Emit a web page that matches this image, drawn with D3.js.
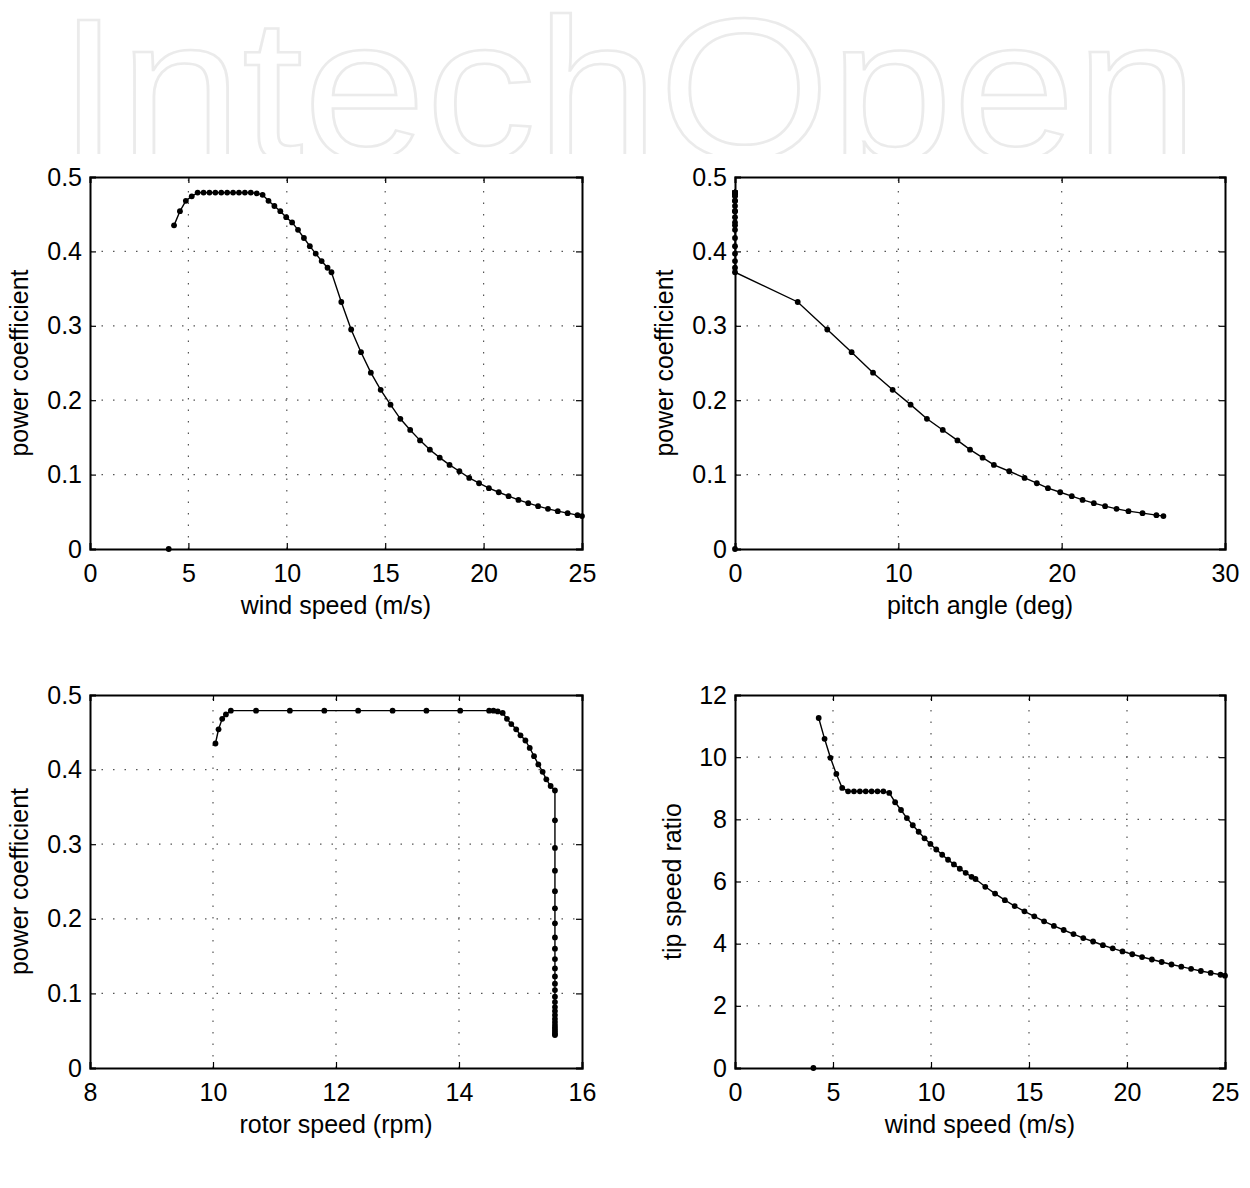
<!DOCTYPE html>
<html>
<head>
<meta charset="utf-8">
<script src="https://cdn.jsdelivr.net/npm/d3@7"></script>
<style>
  body { margin: 0; background: #fff; }
  svg { display: block; font-family: "Liberation Sans", Arial, Helvetica, sans-serif; }
  .tick text { font-size: 25px; fill: #000; }
</style>
</head>
<body>
<svg id="fig" width="1250" height="1188"></svg>
<script>
// operating points of the turbine, one entry per simulated wind speed
var windSpeed = [4.27, 4.57, 4.87, 5.17, 5.47, 5.77, 6.07, 6.37, 6.67, 6.97, 7.27, 7.57, 7.87, 8.17,
  8.47, 8.77, 9.07, 9.37, 9.67, 9.97, 10.27, 10.57, 10.87, 11.17, 11.47, 11.77, 12.07, 12.27,
  12.77, 13.27, 13.77, 14.27, 14.77, 15.27, 15.77, 16.27, 16.77, 17.27, 17.77, 18.27, 18.77,
  19.27, 19.77, 20.27, 20.77, 21.27, 21.77, 22.27, 22.77, 23.27, 23.77, 24.27, 24.77, 25.0];

var powerCoeff = [0.435, 0.454, 0.468, 0.474, 0.479, 0.479, 0.479, 0.479, 0.479, 0.479, 0.479, 0.479, 0.479, 0.479,
  0.478, 0.476, 0.468, 0.461, 0.454, 0.446, 0.439, 0.429, 0.418, 0.407, 0.397, 0.387, 0.378, 0.372,
  0.332, 0.295, 0.2645, 0.237, 0.214, 0.194, 0.175, 0.160, 0.146, 0.1335, 0.1228, 0.113, 0.1045,
  0.0955, 0.0884, 0.0817, 0.0763, 0.071, 0.066, 0.0616, 0.0576, 0.054, 0.0509, 0.0482, 0.0455, 0.0442];

var pitchAngle = [0, 0, 0, 0, 0, 0, 0, 0, 0, 0, 0, 0, 0, 0,
  0, 0, 0, 0, 0, 0, 0, 0, 0, 0, 0, 0, 0, 0,
  3.84, 5.65, 7.14, 8.45, 9.65, 10.75, 11.75, 12.72, 13.62, 14.39, 15.16, 15.85, 16.79,
  17.73, 18.48, 19.16, 19.91, 20.62, 21.28, 21.97, 22.66, 23.36, 24.09, 24.95, 25.80, 26.23];

var rotorSpeed = [10.04, 10.09, 10.15, 10.21, 10.29, 10.70, 11.25, 11.81, 12.36, 12.92, 13.47, 14.02, 14.49, 14.56,
  14.63, 14.71, 14.78, 14.85, 14.93, 15.00, 15.08, 15.15, 15.22, 15.29, 15.36, 15.42, 15.49, 15.56,
  15.56, 15.56, 15.56, 15.56, 15.56, 15.56, 15.56, 15.56, 15.56, 15.56, 15.56, 15.56, 15.56,
  15.56, 15.56, 15.56, 15.56, 15.56, 15.56, 15.56, 15.56, 15.56, 15.56, 15.56, 15.56, 15.56];

var tipSpeedRatio = [11.26, 10.59, 9.98, 9.46, 9.01, 8.90, 8.90, 8.90, 8.90, 8.90, 8.90, 8.90, 8.85, 8.55,
  8.30, 8.04, 7.81, 7.60, 7.39, 7.21, 7.03, 6.86, 6.70, 6.55, 6.41, 6.28, 6.15, 6.08,
  5.83, 5.61, 5.40, 5.21, 5.04, 4.88, 4.72, 4.57, 4.44, 4.31, 4.18, 4.07, 3.95,
  3.85, 3.75, 3.66, 3.57, 3.49, 3.41, 3.33, 3.26, 3.19, 3.12, 3.06, 3.00, 2.97];

// idle state below cut-in: plotted as a lone marker
var idleWind = [4.0];
var idlePitch = [0];
var idleCp = [0];
var idleTsr = [0];

var windTicks = [0, 5, 10, 15, 20, 25];
var pitchTicks = [0, 10, 20, 30];
var rotorTicks = [8, 10, 12, 14, 16];
var cpTicks = [0, 0.1, 0.2, 0.3, 0.4, 0.5];
var tsrTicks = [0, 2, 4, 6, 8, 10, 12];

var svg = d3.select("#fig");

// faint publisher mark across the top, cut at its baseline
var mark = svg.append("svg")
  .attr("x", 0).attr("y", 0).attr("width", 1250).attr("height", 154)
  .style("overflow", "hidden");
mark.append("text")
  .attr("x", 58).attr("y", 158)
  .attr("textLength", 1140)
  .attr("lengthAdjust", "spacingAndGlyphs")
  .style("font-family", "'Liberation Sans', Arial, sans-serif")
  .style("font-size", "200px")
  .style("fill", "none")
  .style("stroke", "#ebebeb")
  .style("stroke-width", 2.5)
  .text("IntechOpen");

var drawPanel = function(p) {
  var x = d3.scaleLinear().domain(p.xDomain).range([p.left, p.right]);
  var y = d3.scaleLinear().domain(p.yDomain).range([p.bottom, p.top]);
  var g = svg.append("g");

  // dotted grid
  g.selectAll(".vgrid").data(p.xTicks.slice(1, -1)).enter().append("line")
    .attr("x1", function(d) { return x(d); }).attr("x2", function(d) { return x(d); })
    .attr("y1", p.bottom).attr("y2", p.top)
    .style("stroke", "#555").style("stroke-width", 1.2)
    .style("stroke-dasharray", "1.5,10");
  g.selectAll(".hgrid").data(p.yTicks.slice(1, -1)).enter().append("line")
    .attr("y1", function(d) { return y(d); }).attr("y2", function(d) { return y(d); })
    .attr("x1", p.left).attr("x2", p.right)
    .style("stroke", "#555").style("stroke-width", 1.2)
    .style("stroke-dasharray", "1.5,10");

  // axes with inward ticks on all four sides
  var fmt = function(d) { return String(d); };
  var axB = g.append("g").attr("transform", "translate(0," + p.bottom + ")")
    .call(d3.axisBottom(x).tickValues(p.xTicks).tickFormat(fmt).tickSize(-6).tickPadding(15));
  var axT = g.append("g").attr("transform", "translate(0," + p.top + ")")
    .call(d3.axisTop(x).tickValues(p.xTicks).tickFormat("").tickSize(-6));
  var axL = g.append("g").attr("transform", "translate(" + p.left + ",0)")
    .call(d3.axisLeft(y).tickValues(p.yTicks).tickFormat(fmt).tickSize(-6).tickPadding(8));
  var axR = g.append("g").attr("transform", "translate(" + p.right + ",0)")
    .call(d3.axisRight(y).tickValues(p.yTicks).tickFormat("").tickSize(-6));
  [axB, axT, axL, axR].forEach(function(a) {
    a.select(".domain").style("stroke", "#000").style("stroke-width", 2);
    a.selectAll(".tick line").style("stroke", "#000").style("stroke-width", 1.2);
  });

  g.append("text")
    .attr("x", (p.left + p.right) / 2).attr("y", p.bottom + 65)
    .attr("text-anchor", "middle")
    .style("font-size", "25px")
    .text(p.xLabel);
  g.append("text")
    .attr("transform", "translate(" + (p.left - p.yLabelGap) + "," + ((p.top + p.bottom) / 2) + ") rotate(-90)")
    .attr("text-anchor", "middle")
    .style("font-size", "25px")
    .text(p.yLabel);

  var pts = p.xs.map(function(v, i) { return [v, p.ys[i]]; });
  var line = d3.line().x(function(d) { return x(d[0]); }).y(function(d) { return y(d[1]); });
  g.append("path").datum(pts).attr("d", line)
    .style("fill", "none").style("stroke", "#000").style("stroke-width", 1.4);
  g.selectAll(".pt").data(pts).enter().append("circle")
    .attr("cx", function(d) { return x(d[0]); })
    .attr("cy", function(d) { return y(d[1]); })
    .attr("r", 2.9).style("fill", "#000");

  if (p.idleX) {
    var idle = p.idleX.map(function(v, i) { return [v, p.idleY[i]]; });
    g.selectAll(".idle").data(idle).enter().append("circle")
      .attr("cx", function(d) { return x(d[0]); })
      .attr("cy", function(d) { return y(d[1]); })
      .attr("r", 2.9).style("fill", "#000");
  }
};

drawPanel({ left: 90, right: 582, top: 177, bottom: 549,
  xDomain: [0, 25], yDomain: [0, 0.5], xTicks: windTicks, yTicks: cpTicks,
  xs: windSpeed, ys: powerCoeff, idleX: idleWind, idleY: idleCp,
  xLabel: "wind speed (m/s)", yLabel: "power coefficient", yLabelGap: 62 });

drawPanel({ left: 735, right: 1225, top: 177, bottom: 549,
  xDomain: [0, 30], yDomain: [0, 0.5], xTicks: pitchTicks, yTicks: cpTicks,
  xs: pitchAngle, ys: powerCoeff, idleX: idlePitch, idleY: idleCp,
  xLabel: "pitch angle (deg)", yLabel: "power coefficient", yLabelGap: 62 });

drawPanel({ left: 90, right: 582, top: 695, bottom: 1068,
  xDomain: [8, 16], yDomain: [0, 0.5], xTicks: rotorTicks, yTicks: cpTicks,
  xs: rotorSpeed, ys: powerCoeff,
  xLabel: "rotor speed (rpm)", yLabel: "power coefficient", yLabelGap: 62 });

drawPanel({ left: 735, right: 1225, top: 695, bottom: 1068,
  xDomain: [0, 25], yDomain: [0, 12], xTicks: windTicks, yTicks: tsrTicks,
  xs: windSpeed, ys: tipSpeedRatio, idleX: idleWind, idleY: idleTsr,
  xLabel: "wind speed (m/s)", yLabel: "tip speed ratio", yLabelGap: 54 });
</script>
</body>
</html>
